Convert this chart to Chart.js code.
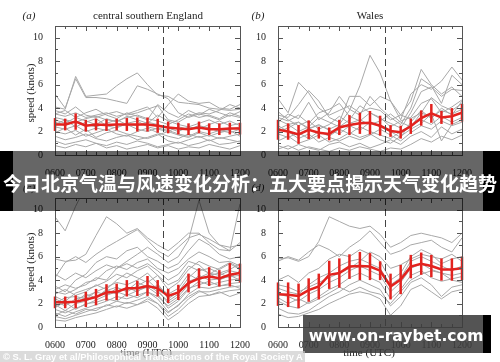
<!DOCTYPE html>
<html>
<head>
<meta charset="utf-8">
<script src="https://cdn.jsdelivr.net/npm/chart.js@4.4.0/dist/chart.umd.min.js"></script>
<style>
body { margin: 0; background: #fff; }
#wrap { position: relative; width: 500px; height: 362px; overflow: hidden; font-family: 'Liberation Serif', serif; color: #222; }
canvas { position: absolute; }
.t { position: absolute; white-space: nowrap; font-size: 11px; transform: translate(-50%, -50%); }
.ylab { position: absolute; white-space: nowrap; font-size: 11px; transform: translate(-50%, -50%) rotate(-90deg); }
.box { position: absolute; }
</style>
</head>
<body>
<div id="wrap">
  <canvas id="ca" width="250" height="181" style="left:0;top:0"></canvas>
  <canvas id="cb" width="250" height="181" style="left:250px;top:0"></canvas>
  <canvas id="cc" width="250" height="181" style="left:0;top:181px"></canvas>
  <canvas id="cd" width="250" height="181" style="left:250px;top:181px"></canvas>

  <div class="t" style="left:29px;top:15px;font-style:italic">(a)</div>
  <div class="t" style="left:148px;top:15px">central southern England</div>
  <div class="t" style="left:258px;top:15px;font-style:italic">(b)</div>
  <div class="t" style="left:370px;top:15px">Wales</div>
  <div class="t" style="left:29px;top:187px;font-style:italic">(c)</div>
  <div class="t" style="left:258px;top:187px;font-style:italic">(d)</div>
  <div class="ylab" style="left:30px;top:93px">speed (knots)</div>
  <div class="ylab" style="left:30px;top:262px">speed (knots)</div>
  <div class="t" style="left:146px;top:352px">time (UTC)</div>
  <div class="t" style="left:369px;top:352px">time (UTC)</div>

  <!-- overlays -->
  <div class="box" style="left:0;top:151px;width:13px;height:60px;background:#000"></div>
  <div class="box" style="left:13px;top:151px;width:470px;height:60px;background:rgba(0,0,0,0.6)"></div>
  <div class="box" style="left:483px;top:151px;width:17px;height:60px;background:#000"></div>
  <div class="t" style="left:250px;top:182px;font-family:'Noto Sans CJK SC',sans-serif;font-weight:bold;font-size:19px;color:#fff">今日北京气温与风速变化分析：五大要点揭示天气变化趋势</div>

  <div class="box" style="left:303px;top:315px;width:180px;height:38px;background:rgba(60,60,60,0.88)"></div>
  <div class="box" style="left:483px;top:315px;width:8px;height:38px;background:#000"></div>
  <div class="t" style="left:396px;top:336px;font-family:'DejaVu Sans',sans-serif;font-weight:bold;font-size:15.5px;color:#fff">www.on-raybet.com</div>

  <div class="box" style="left:0;top:351px;width:305px;height:11px;background:rgba(200,200,200,0.65)"></div>
  <div class="box" style="left:3px;top:351px;font-family:'Liberation Sans',sans-serif;font-weight:bold;font-size:9.4px;line-height:11px;color:#fff;white-space:nowrap">© S. L. Gray et al/Philosophical Transactions of the Royal Society A</div>
</div>

<script>
// time of each value, hours UTC (every 20 min)
const times = [6.00, 6.33, 6.67, 7.00, 7.33, 7.67, 8.00, 8.33, 8.67, 9.00, 9.33, 9.67, 10.00, 10.33, 10.67, 11.00, 11.33, 11.67, 12.00];
const xTicks = [6, 7, 8, 9, 10, 11, 12];
const xTickLabels = ['0600', '0700', '0800', '0900', '1000', '1100', '1200'];
const yTicks = [0, 2, 4, 6, 8, 10];
const splitTime = 9.5;

// (a) central southern England
const meanA = [2.6, 2.6, 2.85, 2.5, 2.6, 2.55, 2.6, 2.6, 2.6, 2.6, 2.5, 2.35, 2.25, 2.2, 2.35, 2.2, 2.2, 2.25, 2.25];
const errA = [0.55, 0.5, 0.7, 0.5, 0.5, 0.5, 0.5, 0.55, 0.6, 0.6, 0.6, 0.5, 0.5, 0.5, 0.5, 0.5, 0.5, 0.5, 0.5];
const greyA = [
  [4.1, 3.9, 6.7, 5.0, 5.1, 5.2, 5.9, 6.5, 7.0, 6.0, 5.1, 5.0, 4.5, 4.4, 4.3, 4.0, 3.9, 3.8, 3.9],
  [5.2, 4.0, 6.5, 4.9, 4.9, 4.8, 4.6, 4.4, 5.9, 5.6, 5.2, 4.8, 3.6, 3.2, 3.5, 3.3, 3.0, 3.4, 3.2],
  [3.5, 3.3, 3.6, 3.2, 3.4, 3.6, 3.3, 3.5, 3.8, 4.1, 3.2, 4.3, 5.2, 4.6, 4.4, 4.5, 4.0, 3.9, 4.3],
  [3.8, 3.5, 4.1, 3.4, 3.2, 3.5, 3.7, 3.4, 3.6, 3.9, 4.2, 3.0, 2.8, 3.3, 3.6, 3.5, 3.8, 4.3, 4.0],
  [3.2, 3.0, 2.8, 3.1, 3.3, 3.0, 2.9, 3.2, 3.4, 3.1, 2.9, 2.6, 3.0, 3.5, 3.2, 3.4, 3.1, 3.6, 3.3],
  [2.8, 2.5, 2.9, 2.6, 2.4, 2.7, 3.0, 2.6, 2.5, 2.8, 2.6, 2.3, 2.0, 2.4, 2.2, 2.6, 2.9, 2.5, 2.7],
  [2.4, 2.2, 2.5, 2.0, 2.3, 2.1, 2.4, 2.6, 2.2, 2.0, 2.3, 2.1, 1.8, 1.6, 2.0, 1.8, 2.1, 1.9, 2.2],
  [2.0, 1.8, 2.1, 1.6, 1.9, 2.2, 1.8, 1.6, 2.0, 2.3, 1.9, 1.6, 1.4, 1.8, 1.5, 1.7, 1.4, 1.6, 1.8],
  [1.6, 1.3, 1.5, 1.8, 1.4, 1.2, 1.5, 1.7, 1.3, 1.5, 1.8, 1.2, 1.0, 1.3, 1.6, 1.2, 1.5, 1.3, 1.1],
  [1.2, 0.9, 1.1, 1.3, 1.0, 0.8, 1.1, 0.9, 1.2, 1.0, 0.7, 0.9, 1.1, 0.8, 1.0, 1.3, 0.9, 1.0, 1.2],
  [0.8, 0.6, 0.9, 0.7, 1.0, 0.6, 0.8, 0.5, 0.7, 0.9, 0.6, 0.8, 0.5, 0.7, 0.6, 0.9, 0.7, 0.5, 0.8],
  [3.0, 2.7, 3.2, 2.9, 2.6, 3.1, 2.8, 3.3, 3.0, 2.7, 3.4, 2.9, 2.6, 2.4, 2.7, 3.0, 2.6, 2.9, 2.5],
  [2.6, 3.0, 2.4, 2.8, 3.1, 2.5, 2.3, 2.7, 2.9, 2.4, 2.2, 2.0, 2.4, 2.2, 2.5, 2.3, 2.0, 2.2, 2.4],
  [1.9, 2.3, 1.7, 2.2, 1.5, 1.9, 2.1, 1.8, 1.6, 1.4, 1.7, 2.0, 1.7, 1.5, 1.9, 1.6, 1.9, 2.1, 1.6],
  [3.5, 3.8, 3.2, 3.6, 3.9, 3.4, 3.1, 3.6, 3.3, 3.0, 4.3, 3.6, 3.2, 3.8, 3.4, 3.9, 3.6, 3.3, 3.7]
];

// (b) Wales
const meanB = [2.15, 2.0, 1.75, 2.15, 1.9, 1.8, 2.35, 2.55, 2.7, 2.75, 2.5, 2.05, 1.95, 2.45, 3.15, 3.55, 3.2, 3.3, 3.6];
const errB = [0.85, 0.7, 0.8, 0.8, 0.5, 0.55, 0.65, 0.85, 0.9, 1.0, 0.85, 0.5, 0.55, 0.65, 0.65, 0.8, 0.55, 0.7, 0.75];
const greyB = [
  [3.0, 2.6, 2.8, 2.3, 2.5, 2.2, 2.6, 3.8, 5.9, 8.5, 7.0, 4.6, 3.4, 3.1, 3.6, 3.2, 3.8, 3.5, 3.9],
  [4.8, 3.6, 6.2, 5.3, 4.0, 3.4, 3.8, 4.2, 3.6, 4.0, 3.8, 3.0, 3.4, 4.6, 7.3, 6.0, 5.2, 5.8, 5.0],
  [3.4, 3.2, 4.3, 5.5, 4.6, 3.2, 2.8, 5.0, 5.0, 4.2, 5.0, 4.6, 3.0, 5.2, 6.0, 5.6, 6.3, 7.5, 6.4],
  [2.8, 3.5, 3.1, 4.5, 3.0, 3.6, 5.0, 3.9, 3.4, 5.0, 4.0, 3.2, 2.6, 4.0, 6.5, 5.9, 4.4, 6.8, 6.0],
  [2.2, 2.6, 2.0, 2.4, 3.2, 2.8, 2.4, 3.0, 4.2, 3.6, 3.2, 2.4, 2.9, 3.2, 4.4, 4.8, 3.6, 4.1, 4.7],
  [3.7, 3.0, 2.5, 2.9, 2.2, 2.6, 3.3, 2.7, 3.0, 2.6, 2.9, 3.5, 2.8, 2.4, 3.6, 4.9, 4.2, 3.8, 4.4],
  [1.8, 1.5, 1.9, 1.4, 2.0, 1.6, 2.2, 1.8, 2.4, 2.0, 1.7, 1.4, 2.0, 2.5, 3.0, 2.6, 3.3, 2.8, 3.2],
  [1.2, 1.6, 1.0, 1.3, 1.7, 1.1, 1.4, 1.9, 1.5, 1.8, 1.3, 1.0, 1.6, 2.2, 2.7, 3.5, 1.2, 2.6, 3.0],
  [0.8, 0.5, 0.9, 0.6, 0.4, 0.9, 1.1, 0.7, 1.0, 0.6, 0.9, 1.3, 0.9, 1.6, 2.0, 1.5, 2.4, 1.8, 2.2],
  [2.5, 2.0, 1.4, 1.8, 1.1, 1.5, 1.2, 1.6, 1.3, 1.7, 2.2, 1.7, 1.2, 1.9, 2.5, 2.2, 2.9, 2.5, 2.8],
  [0.5, 0.8, 0.4, 0.7, 0.5, 0.3, 0.6, 0.4, 0.7, 0.5, 0.3, 0.6, 0.5, 0.9, 1.4, 1.1, 1.6, 1.3, 1.7],
  [3.2, 2.9, 3.4, 2.7, 3.6, 3.9, 4.4, 3.3, 2.9, 3.6, 3.1, 2.7, 2.3, 3.6, 5.4, 5.8, 5.0, 5.6, 5.5],
  [2.0, 2.3, 2.8, 2.2, 2.6, 2.1, 1.8, 2.5, 2.1, 2.8, 2.4, 2.0, 1.5, 2.8, 3.8, 3.1, 4.0, 3.4, 4.6]
];

// (c)
const meanC = [2.1, 2.1, 2.15, 2.35, 2.55, 2.95, 3.0, 3.3, 3.3, 3.5, 3.3, 2.65, 2.95, 3.75, 4.15, 4.3, 4.15, 4.45, 4.6];
const errC = [0.5, 0.5, 0.55, 0.65, 0.7, 0.7, 0.7, 0.7, 0.65, 0.85, 0.7, 0.6, 0.65, 0.8, 0.85, 0.8, 0.7, 1.0, 0.8];
const greyC = [
  [9.4, 8.2, 10.3, 12, 12, 12, 12, 12, 12, 12, 12, 12, 12, 12, 12, 12, 12, 12, 12],
  [5.8, 5.6, 5.7, 6.2, 7.8, 9.4, 8.8, 8.0, 8.4, 7.6, 7.0, 6.5, 7.2, 8.0, 8.0, 7.2, 6.6, 6.5, 10.5],
  [4.2, 5.5, 6.0, 5.5, 6.2, 6.8, 7.3, 7.8, 8.3, 7.4, 6.5, 6.0, 6.8, 7.6, 7.9, 7.5, 7.0, 6.8, 7.0],
  [3.5, 3.0, 4.0, 4.5, 5.5, 6.0, 5.8, 6.5, 6.8, 6.0, 5.6, 5.0, 5.4, 6.5, 7.5, 7.0, 6.2, 5.8, 6.0],
  [3.0, 2.8, 3.2, 3.8, 4.0, 4.8, 5.2, 4.9, 5.5, 5.8, 5.0, 4.6, 5.0, 5.8, 6.4, 6.0, 5.5, 5.6, 5.2],
  [2.6, 2.2, 2.9, 3.2, 3.5, 3.9, 4.5, 4.2, 4.8, 5.2, 4.4, 3.2, 3.8, 4.9, 5.6, 5.2, 4.9, 5.4, 4.9],
  [2.2, 1.8, 2.4, 2.6, 3.0, 3.4, 3.8, 3.6, 4.0, 4.6, 3.7, 2.4, 3.0, 4.2, 5.0, 4.6, 4.4, 4.8, 4.6],
  [1.9, 1.4, 2.0, 2.2, 2.6, 3.1, 3.4, 3.0, 3.5, 4.0, 3.2, 2.0, 2.6, 3.6, 4.4, 4.0, 4.1, 4.3, 4.4],
  [1.5, 1.2, 1.6, 1.9, 2.3, 2.7, 3.0, 2.7, 3.1, 3.4, 2.8, 1.6, 2.2, 3.2, 3.9, 3.6, 3.8, 4.0, 4.1],
  [1.2, 0.9, 1.3, 1.6, 1.9, 2.2, 2.6, 2.4, 2.7, 3.0, 2.4, 1.3, 1.8, 2.8, 3.4, 3.3, 3.5, 3.7, 3.8],
  [0.9, 0.7, 1.0, 1.3, 1.6, 1.8, 2.2, 2.0, 2.3, 2.6, 2.0, 0.9, 1.5, 2.4, 3.0, 3.0, 3.2, 3.4, 3.5],
  [0.6, 0.5, 0.8, 1.0, 1.2, 1.5, 1.8, 1.6, 1.9, 2.2, 1.6, 0.6, 1.2, 2.0, 2.6, 2.7, 2.9, 3.1, 3.2],
  [2.8, 3.2, 2.7, 3.0, 3.6, 3.2, 4.0, 4.6, 4.2, 3.8, 4.4, 3.6, 4.0, 5.2, 4.8, 5.0, 4.6, 4.9, 5.4],
  [2.4, 2.0, 2.2, 2.8, 2.5, 3.2, 2.8, 3.4, 3.0, 3.6, 3.0, 2.2, 2.8, 3.9, 4.2, 4.6, 4.0, 4.4, 4.0],
  [1.7, 2.1, 1.5, 2.0, 2.1, 2.4, 2.2, 2.8, 2.5, 3.0, 2.6, 1.8, 2.4, 3.3, 3.6, 3.9, 3.5, 3.6, 3.3],
  [3.2, 3.6, 3.3, 3.6, 4.2, 4.0, 5.0, 5.4, 5.0, 5.4, 4.8, 4.0, 4.5, 5.6, 5.3, 4.5, 5.0, 5.5, 5.0],
  [1.0, 1.4, 1.1, 1.5, 1.4, 1.9, 1.7, 2.1, 1.9, 2.4, 2.0, 1.2, 1.9, 2.6, 3.1, 2.7, 3.0, 2.6, 2.9],
  [2.0, 2.5, 2.6, 2.4, 3.0, 2.7, 3.3, 3.1, 3.8, 3.4, 3.5, 2.8, 3.3, 4.5, 4.0, 4.4, 4.6, 4.2, 4.8],
  [4.5, 4.0, 4.6, 4.2, 4.8, 5.3, 5.0, 5.6, 6.2, 6.8, 6.2, 5.5, 6.0, 7.4, 10.8, 8.0, 7.0, 6.5, 7.2]
];

// (d)
const meanD = [2.8, 2.75, 2.65, 3.15, 3.45, 4.45, 4.6, 5.15, 5.2, 5.15, 4.8, 3.45, 4.05, 5.15, 5.4, 5.2, 4.9, 4.9, 5.0];
const errD = [1.0, 1.05, 1.05, 1.0, 1.1, 1.2, 1.25, 1.05, 1.2, 1.15, 0.8, 1.1, 1.25, 1.0, 0.95, 0.95, 0.95, 0.95, 1.0];
const greyD = [
  [5.8, 5.9, 5.6, 6.0, 7.3, 9.4, 9.0, 8.6, 8.4, 8.6, 7.9, 6.8, 7.2, 7.8, 8.0, 7.8, 7.6, 7.2, 8.0],
  [5.6, 6.0, 5.7, 6.4, 7.0, 6.6, 6.0, 6.8, 7.4, 8.2, 7.2, 6.2, 6.5, 7.0, 7.2, 7.4, 6.8, 6.4, 7.6],
  [4.0, 4.4, 3.8, 4.6, 5.0, 5.8, 6.2, 6.0, 6.6, 6.2, 5.6, 4.0, 4.6, 6.0, 6.6, 6.2, 5.4, 5.8, 6.0],
  [3.3, 3.0, 2.8, 3.6, 4.2, 4.6, 5.2, 5.6, 5.8, 5.4, 5.0, 3.6, 4.2, 5.6, 6.0, 5.6, 5.2, 4.8, 5.2],
  [2.8, 2.6, 2.2, 2.8, 3.2, 3.8, 4.2, 4.8, 5.2, 4.8, 4.4, 3.0, 3.8, 5.0, 5.4, 4.9, 4.6, 4.4, 4.6],
  [2.2, 1.8, 1.6, 2.1, 2.6, 3.2, 3.6, 4.2, 4.6, 4.2, 3.8, 2.4, 3.2, 4.4, 4.8, 4.2, 3.9, 4.1, 4.3],
  [1.6, 1.2, 1.1, 1.4, 2.0, 2.6, 3.0, 3.6, 4.0, 3.6, 3.2, 1.8, 2.6, 3.8, 4.2, 3.6, 2.6, 3.4, 3.6],
  [1.1, 0.8, 0.9, 1.2, 1.5, 2.0, 2.4, 2.8, 3.0, 2.8, 2.4, 1.0, 1.8, 3.2, 3.6, 3.0, 2.4, 3.0, 3.2],
  [2.5, 2.0, 2.4, 2.0, 2.4, 2.9, 3.4, 3.0, 3.4, 3.0, 2.8, 2.0, 3.0, 4.0, 4.5, 4.8, 4.6, 4.0, 3.8],
  [3.6, 3.4, 3.0, 3.4, 3.8, 4.2, 4.6, 5.0, 5.6, 6.4, 6.0, 5.0, 5.3, 5.8, 6.2, 6.0, 5.8, 6.2, 5.6]
];

const RED = '#e2231f';
const GREY = '#a8a8a8';
const FRAME = '#555';
const tickFont = { family: 'Liberation Serif', size: 10 };

// frame, inward ticks, dashed split line and error bars
const decor = {
  id: 'decor',
  afterDatasetsDraw(chart) {
    const ctx = chart.ctx, a = chart.chartArea;
    const xs = chart.scales.x, ys = chart.scales.y;
    ctx.save();
    // error bars
    const err = chart.options.plugins.decor.err;
    ctx.strokeStyle = RED;
    ctx.lineWidth = 2.5;
    chart.data.datasets[0].data.forEach((p, i) => {
      const px = xs.getPixelForValue(p.x);
      ctx.beginPath();
      ctx.moveTo(px, ys.getPixelForValue(p.y - err[i]));
      ctx.lineTo(px, ys.getPixelForValue(p.y + err[i]));
      ctx.stroke();
    });
    // dashed line
    const sx = Math.round(xs.getPixelForValue(splitTime)) + 0.5;
    ctx.strokeStyle = '#444';
    ctx.lineWidth = 1;
    ctx.setLineDash([7, 4]);
    ctx.beginPath();
    ctx.moveTo(sx, a.top);
    ctx.lineTo(sx, a.bottom);
    ctx.stroke();
    ctx.setLineDash([]);
    // frame
    ctx.strokeStyle = FRAME;
    ctx.strokeRect(a.left + 0.5, a.top + 0.5, a.right - a.left, a.bottom - a.top);
    // ticks
    ctx.beginPath();
    for (let v = 0; v <= 11; v++) {
      const py = Math.round(ys.getPixelForValue(v)) + 0.5;
      const len = v % 2 === 0 ? 5 : 3;
      ctx.moveTo(a.left, py); ctx.lineTo(a.left + len, py);
      ctx.moveTo(a.right, py); ctx.lineTo(a.right - len, py);
    }
    times.forEach(t => {
      const px = Math.round(xs.getPixelForValue(t)) + 0.5;
      const len = Math.abs(t - Math.round(t)) < 0.01 ? 5 : 3;
      ctx.moveTo(px, a.bottom); ctx.lineTo(px, a.bottom - len);
      ctx.moveTo(px, a.top); ctx.lineTo(px, a.top + len);
    });
    ctx.stroke();
    ctx.restore();
  }
};

function makePanel(id, mean, err, grey, yW, padR, padT, xH) {
  const datasets = [{
    data: times.map((t, i) => ({ x: t, y: mean[i] })),
    borderColor: RED, borderWidth: 2.5, pointRadius: 0
  }];
  grey.forEach(g => datasets.push({
    data: times.map((t, i) => ({ x: t, y: g[i] })),
    borderColor: GREY, borderWidth: 1, pointRadius: 0
  }));
  new Chart(document.getElementById(id), {
    type: 'line',
    data: { datasets },
    options: {
      responsive: false, animation: false, devicePixelRatio: 1,
      layout: { padding: { left: 0, right: padR, top: padT, bottom: 0 } },
      plugins: { legend: { display: false }, tooltip: { enabled: false }, decor: { err } },
      scales: {
        x: {
          type: 'linear', min: 6, max: 12,
          grid: { display: false }, border: { display: false },
          afterBuildTicks: s => { s.ticks = xTicks.map(v => ({ value: v })); },
          afterFit: s => { s.height = xH; s.paddingLeft = 0; s.paddingRight = 0; },
          ticks: {
            autoSkip: false, maxRotation: 0, padding: 4, color: '#222', font: tickFont,
            callback: (v) => xTickLabels[xTicks.indexOf(v)]
          }
        },
        y: {
          min: 0, max: 11,
          grid: { display: false }, border: { display: false },
          afterBuildTicks: s => { s.ticks = yTicks.map(v => ({ value: v })); },
          afterFit: s => { s.width = yW; s.paddingTop = 0; s.paddingBottom = 0; },
          ticks: { padding: 4, color: '#222', font: tickFont }
        }
      }
    },
    plugins: [decor]
  });
}

makePanel('ca', meanA, errA, greyA, 55, 10, 26, 26);
makePanel('cb', meanB, errB, greyB, 28, 38, 26, 26);
makePanel('cc', meanC, errC, greyC, 55, 10, 17, 35);
makePanel('cd', meanD, errD, greyD, 28, 38, 17, 35);
</script>
</body>
</html>
